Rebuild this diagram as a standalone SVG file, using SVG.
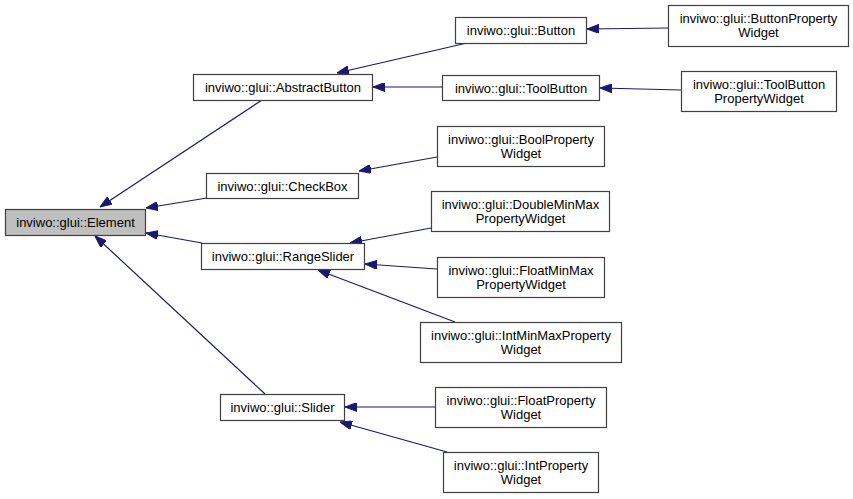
<svg xmlns="http://www.w3.org/2000/svg" width="853" height="499" viewBox="0 0 853 499">
<style>
  .node rect { fill: #ffffff; stroke: #404040; stroke-width: 1.2; }
  .node.root rect { fill: #bfbfbf; }
  .node text { font-family: "Liberation Sans", Arial, sans-serif; font-size: 13px; fill: #000000; text-anchor: middle; }
  .edges line { stroke: #191970; stroke-width: 1.2; marker-end: url(#arrow); }
</style>
<defs>
  <marker id="arrow" markerUnits="userSpaceOnUse" markerWidth="12" markerHeight="9" refX="12" refY="4.5" orient="auto">
    <path d="M0,0 L12,4.5 L0,9 z" fill="#191970" stroke="#191970" stroke-width="1"/>
  </marker>
</defs>
<rect width="853" height="499" fill="#ffffff"/>
<g id="edges" class="edges">
  <line x1="262" y1="100" x2="100" y2="207"/>
  <line x1="207" y1="198" x2="146" y2="208"/>
  <line x1="202" y1="243" x2="146" y2="233"/>
  <line x1="265" y1="394" x2="95" y2="236"/>
  <line x1="467" y1="43" x2="337" y2="73"/>
  <line x1="442" y1="87" x2="373" y2="87"/>
  <line x1="668" y1="28" x2="587" y2="29"/>
  <line x1="681" y1="90" x2="600" y2="88"/>
  <line x1="437" y1="157" x2="359" y2="171"/>
  <line x1="431" y1="228" x2="350" y2="243"/>
  <line x1="437" y1="269" x2="365" y2="264"/>
  <line x1="455" y1="322" x2="318" y2="270"/>
  <line x1="435" y1="407" x2="345" y2="407"/>
  <line x1="447" y1="452" x2="340" y2="422"/>
</g>
<g id="Element" class="node root"><rect x="5.5" y="209.5" width="140" height="26"/><text x="75.5" y="227">inviwo::glui::Element</text></g>
<g id="AbstractButton" class="node"><rect x="193.5" y="74.5" width="179" height="26"/><text x="283" y="92">inviwo::glui::AbstractButton</text></g>
<g id="CheckBox" class="node"><rect x="206.5" y="173.5" width="152" height="25"/><text x="282.5" y="190.5">inviwo::glui::CheckBox</text></g>
<g id="RangeSlider" class="node"><rect x="201.5" y="243.5" width="163" height="26"/><text x="283" y="261">inviwo::glui::RangeSlider</text></g>
<g id="Slider" class="node"><rect x="220.5" y="394.5" width="124" height="26"/><text x="282.5" y="412">inviwo::glui::Slider</text></g>
<g id="Button" class="node"><rect x="455.5" y="17.5" width="131" height="26"/><text x="521" y="35">inviwo::glui::Button</text></g>
<g id="ToolButton" class="node"><rect x="442.5" y="75.5" width="157" height="25"/><text x="521" y="92.5">inviwo::glui::ToolButton</text></g>
<g id="ButtonPropertyWidget" class="node"><rect x="668.5" y="5.5" width="180" height="41"/><text x="758.5" y="23">inviwo::glui::ButtonProperty</text><text x="758.5" y="37">Widget</text></g>
<g id="ToolButtonPropertyWidget" class="node"><rect x="681.5" y="71.5" width="155" height="40"/><text x="759" y="89">inviwo::glui::ToolButton</text><text x="759" y="103">PropertyWidget</text></g>
<g id="BoolPropertyWidget" class="node"><rect x="437.5" y="126.5" width="167" height="40"/><text x="521" y="144">inviwo::glui::BoolProperty</text><text x="521" y="158">Widget</text></g>
<g id="DoubleMinMaxPropertyWidget" class="node"><rect x="431.5" y="191.5" width="178" height="40"/><text x="520.5" y="209">inviwo::glui::DoubleMinMax</text><text x="520.5" y="223">PropertyWidget</text></g>
<g id="FloatMinMaxPropertyWidget" class="node"><rect x="437.5" y="257.5" width="167" height="40"/><text x="521" y="275">inviwo::glui::FloatMinMax</text><text x="521" y="289">PropertyWidget</text></g>
<g id="IntMinMaxPropertyWidget" class="node"><rect x="420.5" y="322.5" width="201" height="40"/><text x="521" y="340">inviwo::glui::IntMinMaxProperty</text><text x="521" y="354">Widget</text></g>
<g id="FloatPropertyWidget" class="node"><rect x="435.5" y="387.5" width="171" height="40"/><text x="521" y="405">inviwo::glui::FloatProperty</text><text x="521" y="419">Widget</text></g>
<g id="IntPropertyWidget" class="node"><rect x="443.5" y="452.5" width="155" height="40"/><text x="521" y="470">inviwo::glui::IntProperty</text><text x="521" y="484">Widget</text></g>
</svg>
